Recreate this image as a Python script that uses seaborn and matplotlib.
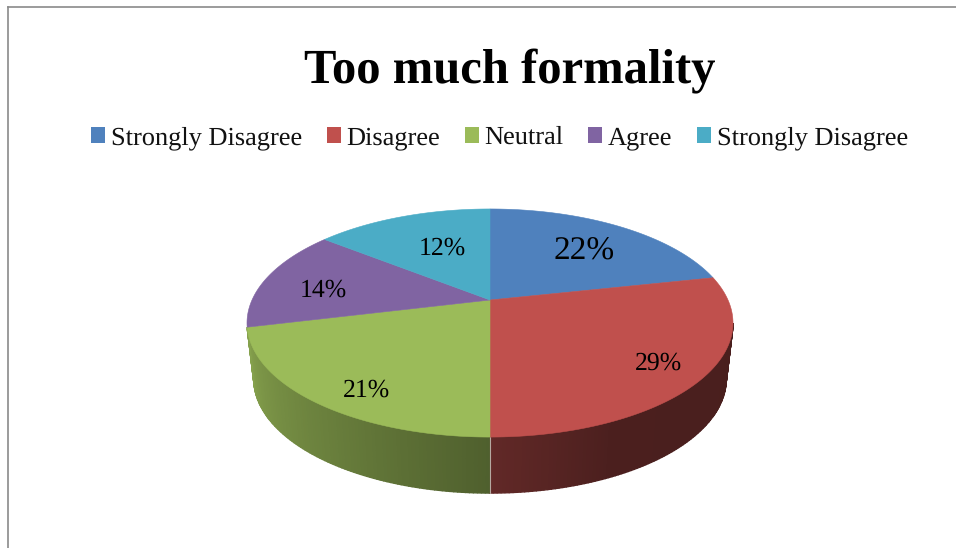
import numpy as np
import matplotlib
matplotlib.use("Agg")
import matplotlib.pyplot as plt
from matplotlib.patches import Patch
import seaborn as sns

# ---- data ----
categories = ["Strongly Disagree", "Disagree", "Neutral", "Agree", "Strongly Disagree"]
slice_shares = [21.6, 28.4, 21.2, 14.5, 14.3]      # drawn size of each slice
slice_labels = ["22%", "29%", "21%", "14%", "12%"]  # text printed on each slice
title_text = "Too much formality"

# ---- style ----
colors = sns.color_palette(["#4F81BD", "#C0504D", "#9BBB59", "#8064A2", "#4BACC6"])
label_sizes = [24, 18.5, 18.5, 18.5, 18.5]
label_radius = [0.70, 0.80, 0.78, 0.74, 0.58]
label_nudge = [(0, 5), (4, 2), (7, 14), (0, 7), (7, 0)]

sns.set_theme(style="white")
plt.rcParams["font.family"] = ["Liberation Serif", "DejaVu Serif"]
plt.rcParams["text.hinting"] = "no_hinting"
plt.rcParams["text.hinting_factor"] = 8

W, H = 956, 548
FX, FY = 8.0, 6.5       # frame corner, pixels
fig = plt.figure(figsize=(W / 100, H / 100), dpi=100, facecolor="white")
ax = fig.add_axes([FX / W, 0, 1 - FX / W, 1 - FY / H])
ax.set_xlim(FX, W)
ax.set_ylim(H, FY)
ax.set_xticks([])
ax.set_yticks([])
for side in ("right", "bottom"):
    ax.spines[side].set_visible(False)
for side in ("left", "top"):
    ax.spines[side].set_visible(True)
    ax.spines[side].set_color("#8a8a8a")
    ax.spines[side].set_linewidth(1.2)

# ---- perspective projection of the pie disc ----
CX, CY = 490.0, 300.0
RX, RY, K = 238.0, 109.4, 0.2018
DEPTH, SHRINK = 56.0, 0.972


def project(theta, r=1.0):
    """theta clockwise from 12 o'clock, radians; returns pixel coordinates."""
    u, v = r * np.sin(theta), r * np.cos(theta)
    d = 1 + K * v
    return CX + RX * u / d, CY - RY * v / d


def project_bottom(theta):
    x, y = project(theta)
    return CX + (x - CX) * SHRINK, y + DEPTH


shares = np.asarray(slice_shares, dtype=float)
edges = np.concatenate([[0], np.cumsum(shares)]) / shares.sum() * 2 * np.pi
mids = (edges[:-1] + edges[1:]) / 2

# ---- side wall: thin strips shaded along the rim ----
th_start = np.arccos(-K)
th_end = min(2 * np.pi - th_start, edges[3])
wall = np.linspace(th_start, th_end, 200)
shade_at = np.radians([100, 155, 178, 182, 215, 258])
shade_val = [0.38, 0.39, 0.50, 0.52, 0.68, 0.87]
for a, b in zip(wall[:-1], wall[1:]):
    m = (a + b) / 2
    idx = min(np.searchsorted(edges, m) - 1, len(colors) - 1)
    col = np.clip(np.array(colors[idx]) * np.interp(m, shade_at, shade_val), 0, 1)
    xa, ya = project(a)
    xb, yb = project(b)
    xc, yc = project_bottom(b)
    xd, yd = project_bottom(a)
    ax.fill([xa, xb, xc, xd], [ya, yb, yc, yd], color=col, lw=1.0, zorder=2)

# pale seam on the wall where two slices meet
for e in edges[1:-1]:
    if th_start < e < th_end:
        x0, y0 = project(e)
        x1, y1 = project_bottom(e)
        ax.plot([x0, x1], [y0, y1], color="#b5a8a0", lw=0.8, zorder=3)

# ---- top face ----
for i, col in enumerate(colors):
    th = np.linspace(edges[i], edges[i + 1], 120)
    x, y = project(th)
    ax.fill(np.r_[CX, x], np.r_[CY, y], color=col, lw=0.4, zorder=4)

# ---- slice labels ----
for i, txt in enumerate(slice_labels):
    x, y = project(mids[i], label_radius[i])
    dx, dy = label_nudge[i]
    ax.text(x + dx, y + dy, txt, fontsize=label_sizes[i], color="black",
            ha="center", va="center", zorder=6)

# ---- title and legend ----
ax.text(509.5, 71, title_text, fontsize=35, fontweight="bold", color="black",
        ha="center", va="center")
handles = [Patch(facecolor=c, edgecolor="none") for c in colors]
ax.legend(handles, categories, ncol=5, loc="center", frameon=False,
          bbox_to_anchor=((499.5 - FX) / (W - FX), 1 - (138 - FY) / (H - FY)),
          fontsize=19, handlelength=0.53, handleheight=0.53, handletextpad=0.23,
          columnspacing=0.92, borderpad=0, labelcolor="#111111")

fig.savefig("out.png", dpi=100, facecolor="white")
